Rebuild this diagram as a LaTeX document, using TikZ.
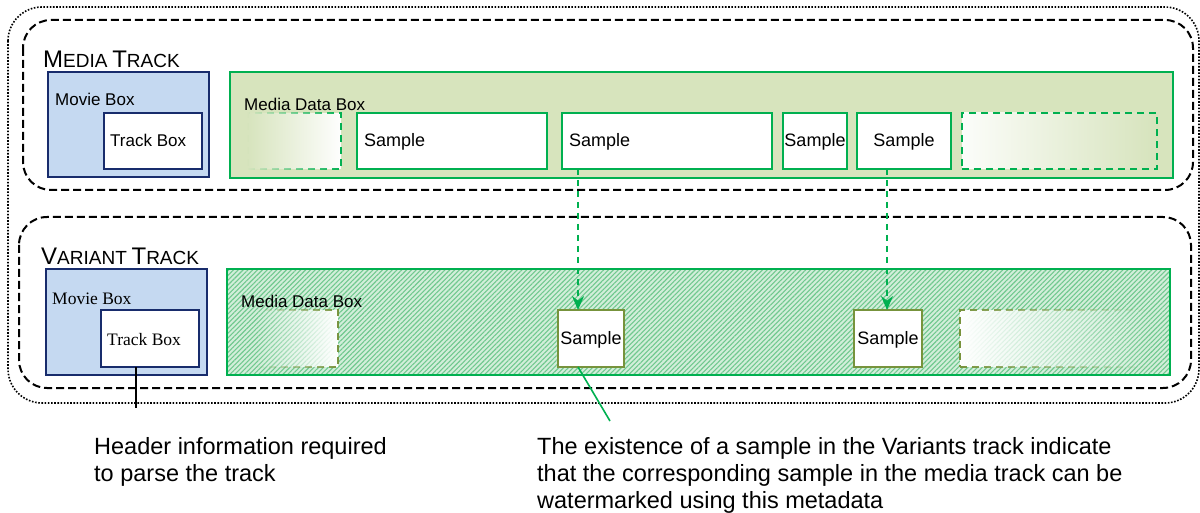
\documentclass[tikz,border=0pt]{standalone}
\usepackage{fontspec}
\setmainfont{Liberation Sans}
\newfontfamily\serifface{Liberation Serif}
\usetikzlibrary{arrows.meta,patterns.meta,fadings,fit}

\definecolor{navybox}{RGB}{24,44,108}
\definecolor{moviefill}{RGB}{197,217,241}
\definecolor{olivebg}{RGB}{215,228,189}
\definecolor{mdgreen}{RGB}{0,176,80}
\definecolor{oliveline}{RGB}{119,147,60}
\definecolor{hatchbg}{RGB}{210,238,218}
\definecolor{hatchline}{RGB}{112,200,142}

\tikzfading[name=fadeleft, left color=transparent!100, right color=transparent!0]
\tikzfading[name=faderight, left color=transparent!0, right color=transparent!100]

\newcommand\tracktitle[4]{{\fontsize{24}{24}\selectfont #1}{\fontsize{19}{19}\selectfont #2} {\fontsize{24}{24}\selectfont #3}{\fontsize{19}{19}\selectfont #4}}

\tikzset{
  bx/.style={inner sep=0pt, outer sep=0pt},
  outerframe/.style={draw=black, line width=1.6pt, dash pattern=on 1.6pt off 1.6pt, rounded corners=34pt},
  trackframe/.style={draw=black, line width=2pt, dash pattern=on 8pt off 4pt, rounded corners=28pt},
  moviebox/.style={bx, draw=navybox, line width=2pt, fill=moviefill},
  trackbox/.style={bx, draw=navybox, line width=2pt, fill=white},
  mediabox/.style={bx, draw=mdgreen, line width=2pt, fill=olivebg},
  hatchbox/.style={bx, draw=mdgreen, line width=2pt, preaction={fill=hatchbg},
    pattern={Lines[angle=45,distance=3.4pt,line width=1.1pt]}, pattern color=hatchline},
  samplebox/.style={bx, draw=mdgreen, line width=2pt, fill=white},
  varsample/.style={bx, draw=oliveline, line width=2pt, fill=white},
  ghostgreen/.style={bx, draw=mdgreen, line width=2pt, dash pattern=on 7pt off 5pt},
  ghostolive/.style={bx, draw=oliveline, line width=2pt, dash pattern=on 7pt off 5pt, fill=white},
  lbl/.style={inner sep=0pt, font=\fontsize{17}{20}\selectfont},
  smp/.style={inner sep=0pt, font=\fontsize{18}{20}\selectfont},
  note/.style={anchor=north west, inner sep=0pt, align=left, font=\fontsize{23.5}{27}\selectfont},
  flowarrow/.style={draw=mdgreen, line width=2pt, dash pattern=on 6pt off 5pt,
    -{Stealth[length=14pt,width=12pt]}},
}

\begin{document}
\begin{tikzpicture}[x=1pt,y=-1pt]
\useasboundingbox (0,0) rectangle (1200,513);

% frames around the whole file and around each track
\draw[outerframe] (8,7) rectangle (1199,403);
\draw[trackframe] (23,20) rectangle (1193,190);
\draw[trackframe] (19,217) rectangle (1191,388);

% ---------------- media track ----------------
\node[lbl, anchor=base west] (mtitle) at (43,68) {\tracktitle{M}{EDIA}{T}{RACK}};

\node[moviebox, fit={(48,72) (209,177)}] (mmovie) {};
\node[lbl, anchor=base west] (mmovielbl) at (55,106) {Movie Box};
\node[trackbox, fit={(104,113) (202,169)}] (mtrack) {};
\node[lbl, anchor=base west] (mtracklbl) at (110,147) {Track Box};

\node[mediabox, fit={(230,72) (1173,178)}] (mmdat) {};
\node[lbl, anchor=base west] (mmdatlbl) at (244,111) {Media Data Box};

\node[ghostgreen, fill=white, path fading=fadeleft, fit={(248,113) (341,169)}] (mghostl) {};
\node[samplebox, fit={(357,113) (547,169)}] (s1) {};
\node[samplebox, fit={(562,113) (772,169)}] (s2) {};
\node[samplebox, fit={(783,113) (847,169)}] (s3) {};
\node[samplebox, fit={(857,113) (951,169)}] (s4) {};
\node[ghostgreen, left color=white!92!olivebg, right color=olivebg!92!black!4!olivebg, fit={(962,113) (1157,169)}] (mghostr) {};

\node[smp, anchor=base west] (s1lbl) at (364,147) {Sample};
\node[smp, anchor=base west] (s2lbl) at (569,147) {Sample};
\node[smp, anchor=base] (s3lbl) at (815,147) {Sample};
\node[smp, anchor=base] (s4lbl) at (904,147) {Sample};

% ---------------- variant track ----------------
\node[lbl, anchor=base west] (vtitle) at (41,265) {\tracktitle{V}{ARIANT}{T}{RACK}};

\node[moviebox, fit={(46,269) (207,375)}] (vmovie) {};
\node[lbl, anchor=base west, font=\serifface\fontsize{17.5}{20}\selectfont] (vmovielbl) at (52,305) {Movie Box};
\node[trackbox, fit={(101,310) (199,367)}] (vtrack) {};
\node[lbl, anchor=base west, font=\serifface\fontsize{17.5}{20}\selectfont] (vtracklbl) at (107,345) {Track Box};

\node[hatchbox, fit={(227,269) (1170,375)}] (vmdat) {};
\node[lbl, anchor=base west] (vmdatlbl) at (241,308) {Media Data Box};

\node[ghostolive, path fading=fadeleft, fit={(257,310) (338,367)}] (vghostl) {};
\node[varsample, fit={(558,310) (624,367)}] (ls1) {};
\node[varsample, fit={(854,310) (922,367)}] (ls2) {};
\node[ghostolive, path fading=faderight, fit={(960,310) (1150,367)}] (vghostr) {};

\node[smp, anchor=base] (ls1lbl) at (591,344) {Sample};
\node[smp, anchor=base] (ls2lbl) at (888,344) {Sample};

% ---------------- links between the tracks ----------------
\coordinate (ax1) at (578,0);
\coordinate (ax2) at (887,0);
\draw[flowarrow] (s2.south -| ax1) -- (ls1.north -| ax1);
\draw[flowarrow] (s4.south -| ax2) -- (ls2.north -| ax2);

% ---------------- call-outs ----------------
\coordinate (hdrx) at (136,0);
\coordinate (hdrend) at (136,408);
\draw[black, line width=1.6pt] (vtrack.south -| hdrx) -- (hdrend);

\coordinate (noteend) at (610,421);
\draw[mdgreen, line width=1.6pt] (ls1.south -| ax1) -- (noteend);

\node[note] (hdrtxt) at (94,437)
  {Header information required\\to parse the track};
\node[note] (notetxt) at (537,437)
  {The existence of a sample in the Variants track indicate\\that the corresponding sample in the media track can be\\watermarked using this metadata};
\end{tikzpicture}
\end{document}
